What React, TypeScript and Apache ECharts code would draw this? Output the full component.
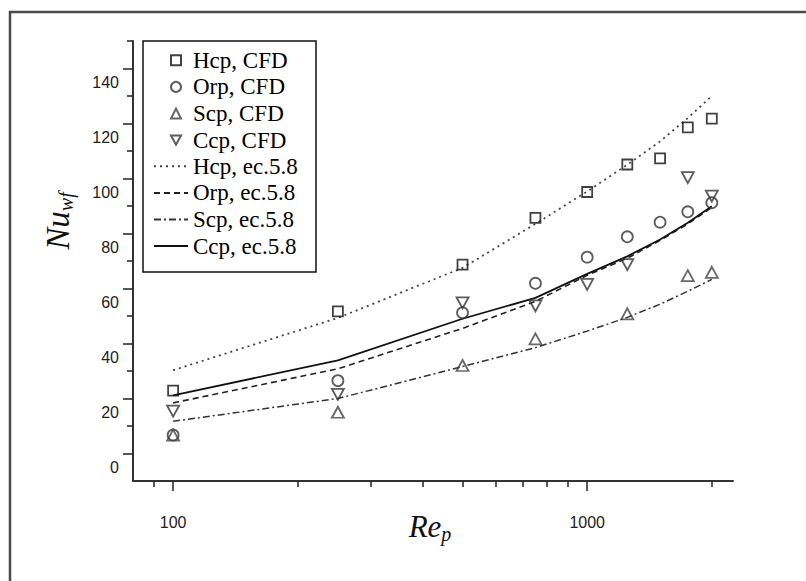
import React, { useEffect, useRef } from 'react';
import * as echarts from 'echarts';

// Reynolds numbers (x)
const reValues = [100, 250, 500, 750, 1000, 1250, 1500, 1750, 2000];

// CFD points (Nu_wf); null = no point at that Re
const hcpCfd = [22.9, 51.7, 68.7, 85.7, 95.1, 105.1, 107.3, 118.6, 121.8];
const orpCfd = [6.7, 26.5, 51.2, 61.9, 71.4, 78.8, 84.1, 87.9, 91.2];
const scpCfd = [6.7, 15.0, 32.0, 41.7, null, 50.8, null, 64.7, 65.9];
const ccpCfd = [15.4, 21.5, 54.8, 53.7, 61.5, 68.7, null, 100.3, 93.6];

// Correlation curves (ec. 5.8)
const hcpEc = [30.3, 49.3, 67.5, 83.5, 95.3, 105.0, 113.5, 122.0, 130.0];
const orpEc = [18.4, 30.8, 45.5, 55.3, 64.8, 71.0, 77.5, 83.5, 89.5];
const scpEc = [11.7, 20.0, 31.6, 38.5, 44.5, 49.5, 54.3, 59.0, 63.3];
const ccpEc = [21.1, 33.9, 49.0, 56.6, 65.3, 71.7, 77.8, 83.9, 89.9];

// Axis ticks
const xMajorTicks = [100, 1000];
const xMinorTicks = [90, 200, 300, 400, 500, 600, 700, 800, 900, 2000];
const yMajorTicks = [0, 20, 40, 60, 80, 100, 120, 140];
const yMinorTicks = [10, 30, 50, 70, 90, 110, 130, 150];

const pairs = (ys: (number | null)[]) =>
  reValues
    .map((x, i) => [x, ys[i]] as [number, number | null])
    .filter((p) => p[1] !== null);

const SERIF = '"Liberation Serif", "Times New Roman", serif';
const SANS = '"Liberation Sans", Arial, sans-serif';

export default function App() {
  const ref = useRef<HTMLDivElement>(null);

  useEffect(() => {
    if (!ref.current) return;
    const chart = echarts.init(ref.current, null, { renderer: 'svg' });

    const gridBox = { left: 133, right: 73, top: 41, bottom: 100, containLabel: false, outerBoundsMode: 'none' };
    const axisLineStyle = { color: '#333', width: 2 };
    const tickStyle = { color: '#222', width: 1.5 };

    const scatter = (name: string, data: any[], symbol: string, size: any, color: string, rotate = 0) => ({
      name,
      type: 'scatter',
      xAxisIndex: 0,
      yAxisIndex: 0,
      symbol,
      symbolSize: size,
      symbolRotate: rotate,
      itemStyle: { color: 'rgba(0,0,0,0)', borderColor: color, borderWidth: 1.8 },
      emphasis: { disabled: true },
      data,
      z: 3,
    });

    const line = (name: string, data: any[], type: any, color: string, width: number) => ({
      name,
      type: 'line',
      xAxisIndex: 0,
      yAxisIndex: 0,
      symbol: 'none',
      showSymbol: false,
      lineStyle: { type, color, width },
      itemStyle: { color },
      emphasis: { disabled: true },
      data,
      z: 2,
    });

    const option: any = {
      animation: false,
      backgroundColor: '#ffffff',
      grid: [gridBox, { ...gridBox }],
      xAxis: [
        {
          type: 'log',
          logBase: 10,
          gridIndex: 0,
          min: 80,
          max: 2250,
          axisLine: { show: true, onZero: false, lineStyle: axisLineStyle },
          axisTick: { show: true, customValues: xMajorTicks, length: 10, lineStyle: tickStyle },
          axisLabel: {
            customValues: xMajorTicks,
            margin: 33,
            fontFamily: SANS,
            fontSize: 16,
            color: '#222',
            formatter: (v: number) => String(Math.round(v)),
          },
          splitLine: { show: false },
        },
        {
          type: 'log',
          logBase: 10,
          gridIndex: 1,
          min: 80,
          max: 2250,
          axisLine: { show: false, onZero: false },
          axisTick: { show: true, customValues: xMinorTicks, length: 6, lineStyle: tickStyle },
          axisLabel: { show: false },
          splitLine: { show: false },
        },
      ],
      yAxis: [
        {
          type: 'value',
          gridIndex: 0,
          min: -10,
          max: 150,
          axisLine: { show: true, onZero: false, lineStyle: axisLineStyle },
          axisTick: { show: true, customValues: yMajorTicks, length: 10, lineStyle: tickStyle },
          axisLabel: {
            customValues: yMajorTicks,
            margin: 14,
            verticalAlign: 'top',
            lineHeight: 28,
            fontFamily: SANS,
            fontSize: 16,
            color: '#222',
          },
          splitLine: { show: false },
        },
        {
          type: 'value',
          gridIndex: 1,
          min: -10,
          max: 150,
          axisLine: { show: false, onZero: false },
          axisTick: { show: true, customValues: yMinorTicks, length: 6, lineStyle: tickStyle },
          axisLabel: { show: false },
          splitLine: { show: false },
        },
      ],
      legend: [
        {
          orient: 'vertical',
          left: 170,
          top: 47,
          padding: 0,
          itemWidth: 10,
          itemHeight: 10,
          itemGap: 0,
          selectedMode: false,
          textStyle: { fontFamily: SERIF, fontSize: 23, lineHeight: 26.6, color: '#000', padding: [0, 0, 0, 7] },
          data: [
            'Hcp, CFD',
            'Orp, CFD',
            'Scp, CFD',
            { name: 'Ccp, CFD', icon: 'path://M0,0L12,0L6,11Z' },
          ],
        },
        {
          orient: 'vertical',
          left: 153,
          top: 153,
          padding: 0,
          itemWidth: 34,
          itemHeight: 10,
          itemGap: 0,
          selectedMode: false,
          itemStyle: { color: 'rgba(0,0,0,0)', borderColor: 'rgba(0,0,0,0)', borderWidth: 0 },
          textStyle: { fontFamily: SERIF, fontSize: 23, lineHeight: 26.6, color: '#000' },
          data: ['Hcp, ec.5.8', 'Orp, ec.5.8', 'Scp, ec.5.8', 'Ccp, ec.5.8'],
        },
      ],
      graphic: [
        {
          type: 'polyline',
          silent: true,
          shape: { points: [[10, 581], [10, 12], [806, 12]] },
          style: { stroke: '#4a4a4a', lineWidth: 2.5, fill: null },
        },
        {
          type: 'rect',
          silent: true,
          shape: { x: 143, y: 41, width: 173, height: 231 },
          style: { fill: 'none', stroke: '#111', lineWidth: 1.5 },
        },
        {
          type: 'text',
          x: 58,
          y: 221,
          rotation: Math.PI / 2,
          style: {
            text: '{n|Nu}{s|wf}',
            align: 'center',
            verticalAlign: 'middle',
            rich: {
              n: { fontFamily: SERIF, fontStyle: 'italic', fontSize: 33, fill: '#111' },
              s: { fontFamily: SERIF, fontStyle: 'italic', fontSize: 20, fill: '#111', padding: [15, 0, 0, 0] },
            },
          },
        },
        {
          type: 'text',
          x: 430,
          y: 526,
          style: {
            text: '{n|Re}{s|p}',
            align: 'center',
            verticalAlign: 'middle',
            rich: {
              n: { fontFamily: SERIF, fontStyle: 'italic', fontSize: 31, fill: '#111' },
              s: { fontFamily: SERIF, fontStyle: 'italic', fontSize: 20, fill: '#111', padding: [16, 0, 0, 0] },
            },
          },
        },
      ],
      series: [
        line('Hcp, ec.5.8', pairs(hcpEc), [2, 4], '#444', 1.8),
        line('Orp, ec.5.8', pairs(orpEc), [6, 4], '#222', 1.6),
        line('Scp, ec.5.8', pairs(scpEc), [7, 3, 2, 3], '#333', 1.5),
        line('Ccp, ec.5.8', pairs(ccpEc), 'solid', '#111', 1.8),
        scatter('Hcp, CFD', pairs(hcpCfd), 'rect', 10, '#111'),
        scatter('Orp, CFD', pairs(orpCfd), 'circle', 11, '#333'),
        scatter('Scp, CFD', pairs(scpCfd), 'triangle', [12, 11], '#444'),
        scatter('Ccp, CFD', pairs(ccpCfd), 'triangle', [12, 11], '#333', 180),
      ],
    };

    chart.setOption(option);
    return () => chart.dispose();
  }, []);

  return (
    <div
      ref={ref}
      style={{ position: 'fixed', left: 0, top: 0, width: 806, height: 581, background: '#fff' }}
    />
  );
}
